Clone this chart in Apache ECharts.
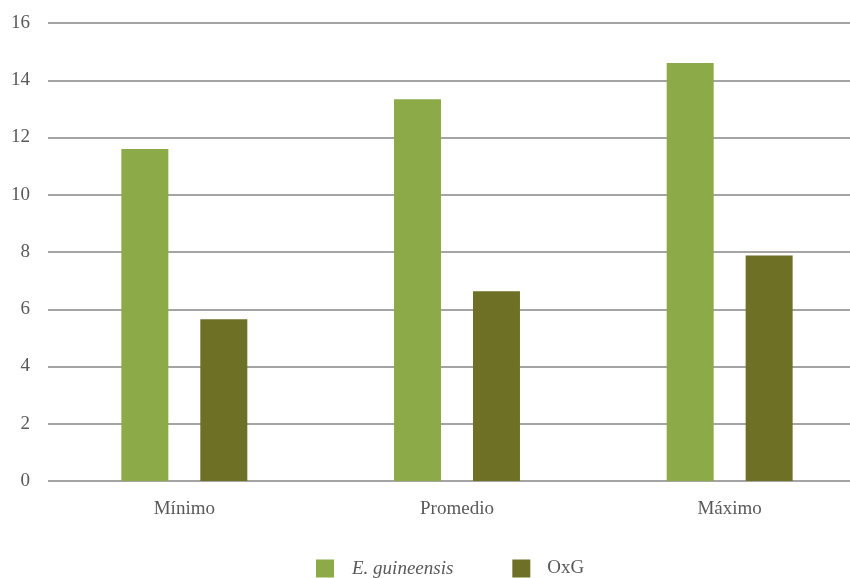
<!DOCTYPE html>
<html>
<head>
<meta charset="utf-8">
<script src="https://cdn.jsdelivr.net/npm/echarts@6/dist/echarts.min.js"></script>
<style>
html,body{margin:0;padding:0;background:#fff;}
#main{width:850px;height:578px;}
</style>
</head>
<body>
<div id="main"></div>
<script>
// datos del grafico
var categorias = ['Mínimo', 'Promedio', 'Máximo'];
var guineensis = [11.6, 13.34, 14.6];
var oxg = [5.65, 6.63, 7.88];
var ticksY = [0, 2, 4, 6, 8, 10, 12, 14, 16];

var fuente = '"Liberation Serif", "DejaVu Serif", serif';
var myChart = echarts.init(document.getElementById('main'));

var option = {
	animation: false,
	textStyle: { fontFamily: fuente },
	//la grilla se sale por la derecha como en la imagen original
	grid: { left: 48, width: 818, top: 23, bottom: 97, outerBoundsMode: 'none' },
	legend: {
		left: 316,
		top: 559,
		padding: 0,
		itemWidth: 18,
		itemHeight: 18,
		itemGap: 59,
		icon: 'rect',
		data: ['E. guineensis', 'OxG'],
		formatter: function(name){
			return name === 'E. guineensis' ? '{i|' + name + '}' : '{n|' + name + '}';
		},
		textStyle: {
			fontFamily: fuente,
			fontSize: 19,
			color: '#595959',
			rich: {
				i: { fontStyle: 'italic', fontSize: 19, color: '#595959', fontFamily: fuente, padding: [0, 0, 0, 13] },
				n: { fontSize: 19, color: '#595959', fontFamily: fuente, padding: [0, 0, 0, 12] }
			}
		}
	},
	xAxis: {
		type: 'category',
		data: categorias,
		axisLine: { show: false },
		axisTick: { show: false },
		axisLabel: { color: '#595959', fontSize: 19, margin: 19, fontFamily: fuente }
	},
	yAxis: {
		type: 'value',
		min: ticksY[0],
		max: ticksY[ticksY.length - 1],
		interval: 2,
		axisLine: { show: false },
		axisTick: { show: false },
		axisLabel: { color: '#595959', fontSize: 19, margin: 18, fontFamily: fuente },
		splitLine: { lineStyle: { color: '#868686', width: 1.5 } }
	},
	series: [{
		name: 'E. guineensis',
		type: 'bar',
		data: guineensis,
		barWidth: 47,
		barGap: '68%',
		itemStyle: { color: '#8DAA48' }
	}, {
		name: 'OxG',
		type: 'bar',
		data: oxg,
		barWidth: 47,
		itemStyle: { color: '#6E7125' }
	}]
};
myChart.setOption(option);
</script>
</body>
</html>
